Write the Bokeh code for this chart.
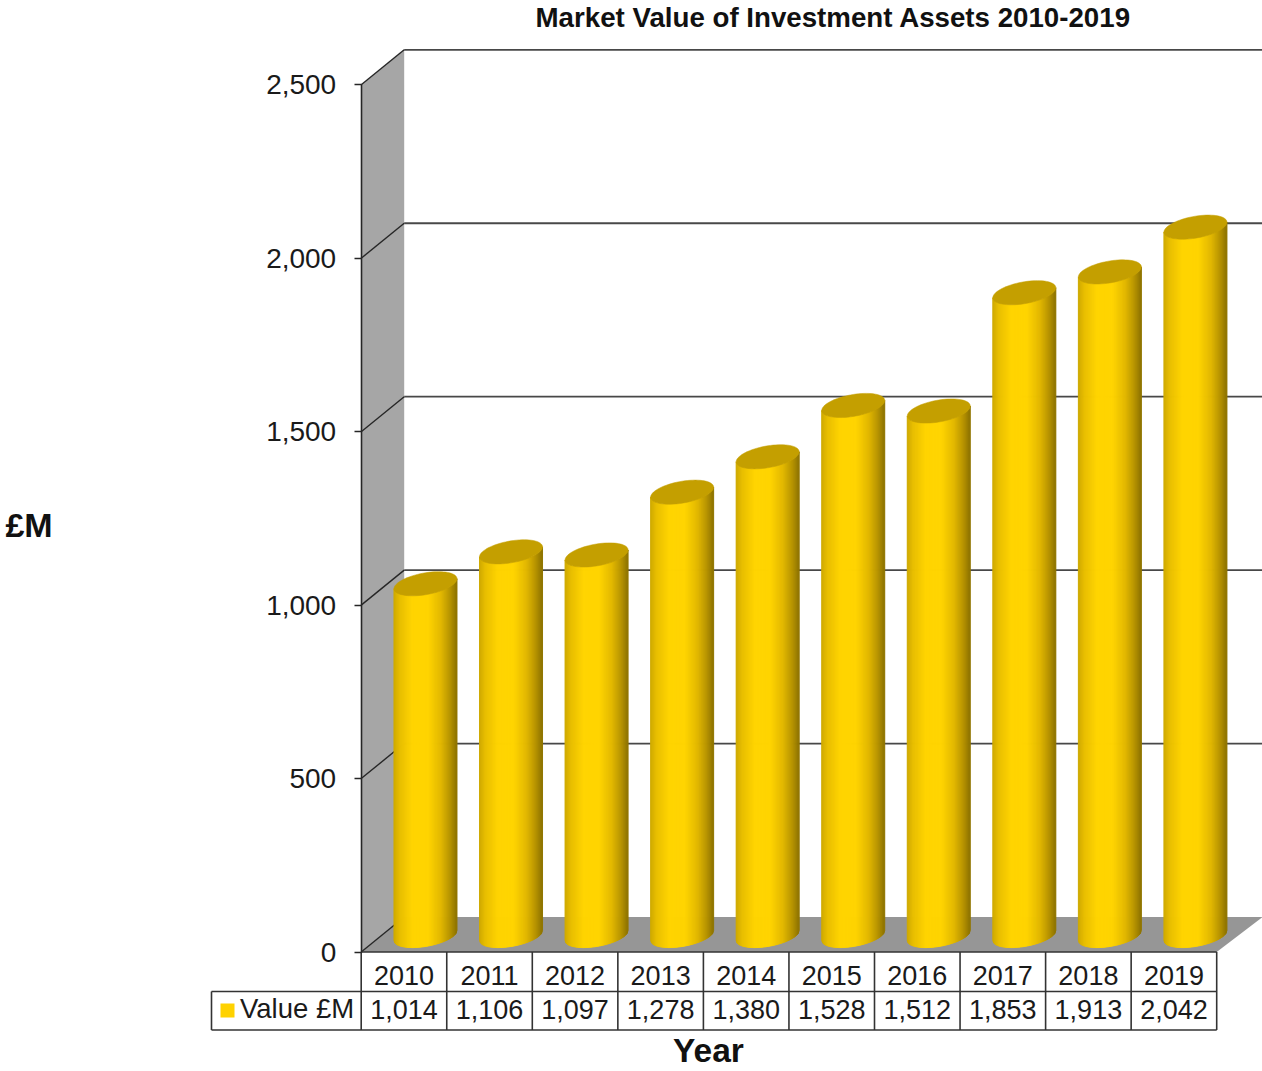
import math
from bokeh.plotting import figure
from bokeh.models import Range1d, ColumnDataSource, NumeralTickFormatter, FixedTicker
from bokeh.core.properties import value
from bokeh.embed import file_html
from bokeh.resources import INLINE

# ---- data ----
YEARS = ["2010", "2011", "2012", "2013", "2014", "2015", "2016", "2017", "2018", "2019"]
VALUES = [1014, 1106, 1097, 1278, 1380, 1528, 1512, 1853, 1913, 2042]
Y_TICKS = [0, 500, 1000, 1500, 2000, 2500]
SERIES_NAME = "Value £M"
TITLE = "Market Value of Investment Assets 2010-2019"
Y_LABEL = "£M"
X_LABEL = "Year"

# ---- geometry (pixels of the picture -> data scales) ----
W, H = 1262, 1071
TITLE_H = 31
X0_PX, CAT_PX = 360.7, 85.55
Y0_PX, VAL_PX = 951.5, 867.2 / 2500.0
DEPTH_X = 43.0 / CAT_PX
DEPTH_Y = 35.0 / VAL_PX
RIGHT_WALL = (1262 - X0_PX) / CAT_PX
HALF_W = 31.5 / CAT_PX
SKEW = 5.0 / VAL_PX
ELL_H = 11.0 / VAL_PX
BASE = 16.5 / VAL_PX
FONT = "Liberation Sans"
GOLD = "#FFD200"
TOP_GOLD = "#C49F00"
STOPS = [(0.0, (205, 168, 0)), (0.1, (232, 190, 0)), (0.3, (255, 212, 0)), (0.55, (255, 212, 0)),
         (0.75, (226, 184, 0)), (0.9, (182, 147, 0)), (1.0, (142, 115, 0))]


def xp(px):
    return (px - X0_PX) / CAT_PX


def yp(px):
    return (Y0_PX - px) / VAL_PX


def shade(f):
    for (a, ca), (b, cb) in zip(STOPS, STOPS[1:]):
        if f <= b:
            t = (f - a) / (b - a)
            return "#%02x%02x%02x" % tuple(round(u + (v - u) * t) for u, v in zip(ca, cb))
    return "#8e7300"


def lower(u):
    # lower arc of a sheared ellipse at u in [-1, 1] across its width: the right side sits higher
    return SKEW * u - ELL_H * math.sqrt(max(0.0, 1 - u * u))


p = figure(width=W, height=H, frame_width=W, frame_height=H - TITLE_H,
           x_range=Range1d(xp(0), xp(W)), y_range=Range1d(yp(H), yp(TITLE_H)),
           x_axis_type=None, output_backend="svg", toolbar_location=None,
           min_border=0, outline_line_color=None, background_fill_color="white",
           title=TITLE)
p.grid.visible = False
p.title.text_font = FONT
p.title.text_font_size = "27.7px"
p.title.text_font_style = "bold"
p.title.text_color = "#111111"
p.title.align = "left"
p.title.offset = 535
p.title.standoff = -2

# walls and floor
p.patch([0, DEPTH_X, DEPTH_X, 0], [0, DEPTH_Y, 2500 + DEPTH_Y, 2500], fill_color="#A6A6A6", line_color=None)
p.patch([0, DEPTH_X, RIGHT_WALL, 10], [0, DEPTH_Y, DEPTH_Y, 0], fill_color="#969696", line_color=None)

# gridlines, back wall and left wall
grid_back = [t for t in Y_TICKS if t > 0]
p.segment([DEPTH_X] * len(grid_back), [t + DEPTH_Y for t in grid_back],
          [RIGHT_WALL] * len(grid_back), [t + DEPTH_Y for t in grid_back], line_color="#484848", line_width=1.8)
p.segment([0] * len(Y_TICKS), Y_TICKS, [DEPTH_X] * len(Y_TICKS), [t + DEPTH_Y for t in Y_TICKS],
          line_color="#262626", line_width=1.4)

# cylinders
xs, ys, cols, tx, ty = [], [], [], [], []
K = 64
for i, v in enumerate(VALUES):
    cx = i + 0.5 + DEPTH_X / 2
    for k in range(K):
        ua, ub = -1 + 2 * k / K, -1 + 2 * (k + 1) / K
        xa, xb = cx + HALF_W * ua, cx + HALF_W * ub
        la, lb = lower(ua), lower(ub)
        xs.append([xa, xb, xb, xa])
        ys.append([BASE + la, BASE + lb, BASE + v + lb, BASE + v + la])
        cols.append(shade((k + 0.5) / K))
    ts = [2 * math.pi * n / 72 for n in range(72)]
    tx.append([cx + HALF_W * math.cos(t) for t in ts])
    ty.append([BASE + v + SKEW * math.cos(t) + ELL_H * math.sin(t) for t in ts])

p.patches("xs", "ys", source=ColumnDataSource(dict(xs=xs, ys=ys, c=cols)),
          fill_color="c", line_color="c", line_width=1)
p.patches("xs", "ys", source=ColumnDataSource(dict(xs=tx, ys=ty)), fill_color=TOP_GOLD, line_color=TOP_GOLD, line_width=0.5)

# value axis
ax = p.yaxis[0]
ax.fixed_location = 0
ax.bounds = (0, 2500)
ax.ticker = FixedTicker(ticks=Y_TICKS)
ax.formatter = NumeralTickFormatter(format="0,0")
ax.major_tick_in = 0
ax.major_tick_out = 7
ax.minor_tick_in = 0
ax.minor_tick_out = 0
ax.major_label_standoff = 18
ax.major_label_text_font = FONT
ax.major_label_text_font_size = "28px"
ax.major_label_text_color = "#1a1a1a"
ax.axis_line_color = "#262626"
ax.axis_line_width = 1.6
ax.major_tick_line_color = "#262626"
ax.major_tick_line_width = 1.4

# data table
ROW1, ROW2, ROW3 = Y0_PX, 991, 1029.5
TABLE_LEFT = xp(211)
ln = dict(line_color="#333333", line_width=1.6)
vx = list(range(0, len(YEARS) + 1))
p.segment(vx, [yp(ROW1)] * len(vx), vx, [yp(ROW3)] * len(vx), **ln)
p.segment([0, TABLE_LEFT, TABLE_LEFT], [yp(ROW1), yp(ROW2), yp(ROW3)],
          [len(YEARS)] * 3, [yp(ROW1), yp(ROW2), yp(ROW3)], **ln)
p.segment([TABLE_LEFT], [yp(ROW2)], [TABLE_LEFT], [yp(ROW3)], **ln)

txt = dict(text_font=value(FONT), text_color="#1a1a1a", text_baseline="middle")
cats = [i + 0.5 for i in range(len(YEARS))]
p.text(cats, [yp(975)] * len(YEARS), text=YEARS, text_align="center", text_font_size="27px", **txt)
p.text(cats, [yp(1008.5)] * len(YEARS), text=[f"{v:,}" for v in VALUES], text_align="center",
       text_font_size="27px", **txt)
p.text([xp(239.5)], [yp(1008)], text=[SERIES_NAME], text_align="left", text_font_size="27.5px", **txt)
p.patch([xp(220), xp(234), xp(234), xp(220)], [yp(1003), yp(1003), yp(1017), yp(1017)],
        fill_color=GOLD, line_color=None)

bold = dict(text_font=value(FONT), text_font_style="bold", text_color="#111111", text_baseline="middle")
p.text([xp(28.5)], [yp(524)], text=[Y_LABEL], text_align="center", text_font_size="34px", **bold)
p.text([xp(708)], [yp(1050)], text=[X_LABEL], text_align="center", text_font_size="33.5px", **bold)

open("out.html", "w").write(file_html(p, INLINE))
